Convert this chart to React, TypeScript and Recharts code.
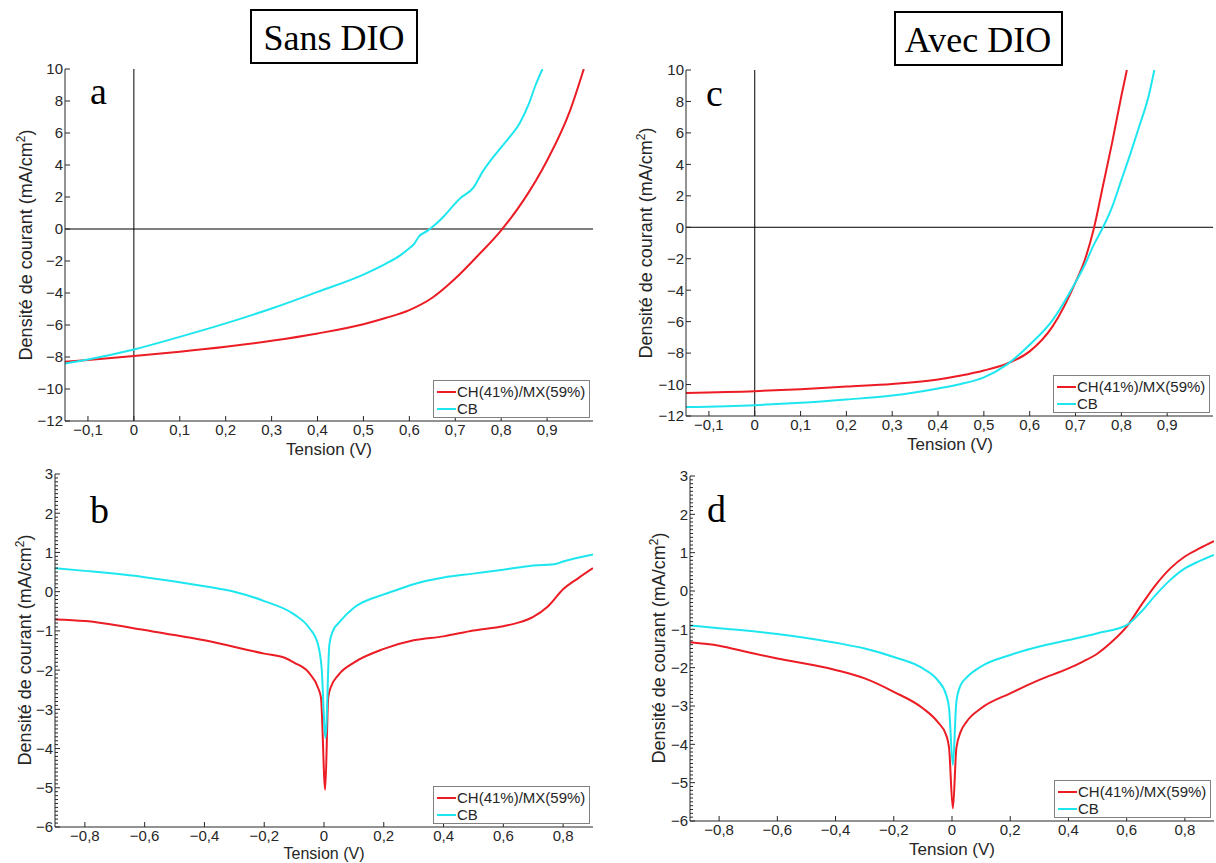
import React from 'react';
import { LineChart, Line, XAxis, YAxis, ReferenceLine, Legend } from 'recharts';

const RED = '#ec1c24';
const CYAN = '#1ee6ef';
const INK = '#262626';
const SANS = '"Liberation Sans", Arial, sans-serif';
const SERIF = '"Liberation Serif", "Times New Roman", serif';

const nameCH = 'CH(41%)/MX(59%)';
const nameCB = 'CB';
const legendOrder = [nameCH, nameCB];

// axis ticks
const jvXTicks = [-0.1, 0, 0.1, 0.2, 0.3, 0.4, 0.5, 0.6, 0.7, 0.8, 0.9];
const jvYTicks = [-12, -10, -8, -6, -4, -2, 0, 2, 4, 6, 8, 10];
const darkXTicks = [-0.8, -0.6, -0.4, -0.2, 0, 0.2, 0.4, 0.6, 0.8];
const darkYTicks = [-6, -5, -4, -3, -2, -1, 0, 1, 2, 3];
// minor ticks (every 0.1) on the dark-current plots
const darkYMinor: number[] = [];
for (let i = -60; i <= 30; i++) darkYMinor.push(i / 10);

// (a) sans DIO, illuminated
const vA_ch = [-0.15, -0.1, 0, 0.1, 0.2, 0.3, 0.4, 0.5, 0.55, 0.6, 0.65, 0.7, 0.75, 0.8, 0.85, 0.9, 0.95, 0.98];
const jA_ch = [-8.3, -8.18, -7.94, -7.67, -7.36, -6.99, -6.53, -5.95, -5.55, -5.07, -4.3, -3.1, -1.64, -0.08, 1.85, 4.28, 7.4, 10];
const vA_cb = [-0.15, -0.1, 0, 0.1, 0.2, 0.3, 0.4, 0.5, 0.55, 0.58, 0.6, 0.61, 0.62, 0.64, 0.65, 0.67, 0.7, 0.71, 0.74, 0.76, 0.78, 0.8, 0.82, 0.84, 0.86, 0.875, 0.89];
const jA_cb = [-8.4, -8.15, -7.53, -6.74, -5.9, -4.97, -3.93, -2.85, -2.15, -1.65, -1.2, -0.95, -0.5, -0.1, 0.12, 0.64, 1.6, 1.9, 2.6, 3.6, 4.4, 5.1, 5.8, 6.6, 7.8, 9.0, 10];

// (c) avec DIO, illuminated
const vC_ch = [-0.15, 0, 0.1, 0.2, 0.3, 0.4, 0.45, 0.5, 0.55, 0.6, 0.65, 0.7, 0.72, 0.74, 0.76, 0.78, 0.8, 0.812];
const jC_ch = [-10.53, -10.42, -10.3, -10.13, -9.96, -9.68, -9.43, -9.11, -8.67, -7.89, -6.3, -3.5, -2.1, -0.08, 2.66, 5.4, 8.35, 10];
const vC_cb = [-0.15, 0, 0.1, 0.2, 0.3, 0.4, 0.45, 0.5, 0.55, 0.6, 0.65, 0.7, 0.72, 0.74, 0.76, 0.78, 0.8, 0.82, 0.84, 0.86, 0.872];
const jC_cb = [-11.43, -11.31, -11.16, -10.95, -10.7, -10.25, -9.96, -9.54, -8.73, -7.47, -5.9, -3.5, -2.4, -1.1, 0, 1.3, 3.0, 4.7, 6.5, 8.4, 10];

// (b) sans DIO, dark
const vB_ch = [-0.9, -0.8, -0.6, -0.4, -0.2, -0.13, -0.1, -0.05, -0.02, -0.01, 0.004, 0.014, 0.022, 0.05, 0.1, 0.2, 0.3, 0.4, 0.5, 0.6, 0.65, 0.7, 0.75, 0.8, 0.85, 0.9];
const jB_ch = [-0.71, -0.75, -0.98, -1.24, -1.58, -1.69, -1.81, -2.07, -2.45, -2.71, -5.05, -2.71, -2.45, -2.11, -1.81, -1.46, -1.24, -1.14, -0.99, -0.88, -0.79, -0.64, -0.37, 0.06, 0.34, 0.6];
const vB_cb = [-0.9, -0.8, -0.6, -0.4, -0.3, -0.2, -0.1, -0.05, -0.02, -0.008, 0.005, 0.018, 0.03, 0.05, 0.1, 0.2, 0.25, 0.3, 0.4, 0.5, 0.6, 0.7, 0.77, 0.8, 0.9];
const jB_cb = [0.6, 0.53, 0.37, 0.14, 0.0, -0.24, -0.58, -0.92, -1.35, -1.94, -3.73, -1.35, -1.0, -0.79, -0.41, -0.07, 0.06, 0.19, 0.36, 0.46, 0.56, 0.67, 0.7, 0.77, 0.95];

// (d) avec DIO, dark
const vD_ch = [-0.9, -0.8, -0.7, -0.6, -0.4, -0.3, -0.2, -0.1, -0.05, -0.02, -0.01, 0.003, 0.015, 0.03, 0.05, 0.1, 0.2, 0.3, 0.4, 0.45, 0.5, 0.55, 0.6, 0.65, 0.7, 0.75, 0.8, 0.85, 0.9];
const jD_ch = [-1.34, -1.43, -1.6, -1.76, -2.06, -2.28, -2.63, -3.06, -3.41, -3.76, -4.1, -5.67, -4.1, -3.67, -3.41, -3.06, -2.67, -2.32, -2.02, -1.84, -1.63, -1.32, -0.93, -0.37, 0.16, 0.59, 0.9, 1.11, 1.3];
const vD_cb = [-0.9, -0.8, -0.6, -0.4, -0.3, -0.2, -0.1, -0.05, -0.02, -0.01, 0.003, 0.015, 0.03, 0.05, 0.1, 0.2, 0.3, 0.4, 0.5, 0.6, 0.65, 0.7, 0.75, 0.8, 0.85, 0.9];
const jD_cb = [-0.9, -0.97, -1.12, -1.35, -1.5, -1.72, -2.02, -2.32, -2.71, -3.06, -4.54, -2.89, -2.45, -2.26, -1.97, -1.67, -1.45, -1.28, -1.1, -0.89, -0.54, -0.1, 0.29, 0.59, 0.78, 0.94];

type Pt = { v: number; j: number };
const zip = (vs: number[], js: number[]): Pt[] => vs.map((v, i) => ({ v, j: js[i] }));

const fmtX = (v: number) => (v === 0 ? '0' : (v < 0 ? '\u2212' : '') + Math.abs(v).toFixed(1).replace('.', ','));
const fmtY = (v: number) => (v < 0 ? '\u2212' : '') + Math.abs(v);

const makeYTick = (major: number[], side: 'l' | 'r') => (props: any) => {
  const { x, y, payload } = props;
  const isMajor = major.includes(payload.value);
  const len = isMajor ? 5 : 3;
  const dir = side === 'l' ? 1 : -1;
  return (
    <g>
      <line x1={x} x2={x + dir * len} y1={y} y2={y} stroke={INK} />
      {side === 'l' && isMajor && (
        <text x={x - 2} y={y} dy="0.36em" textAnchor="end" fontSize={15} fontFamily={SANS} fill={INK}>
          {fmtY(payload.value)}
        </text>
      )}
    </g>
  );
};

const topTick = (props: any) => {
  const { x, y } = props;
  return <line x1={x} x2={x} y1={y} y2={y + 5} stroke={INK} />;
};

const LegendBox = (props: any) => {
  const items = ((props.payload || []) as any[])
    .slice()
    .sort((a, b) => legendOrder.indexOf(a.value) - legendOrder.indexOf(b.value));
  return (
    <div
      style={{
        width: 157,
        height: 38,
        boxSizing: 'border-box',
        border: '1px solid #808080',
        background: '#fff',
        padding: '2px 0 0 3px',
        fontFamily: SANS,
        fontSize: 15,
        color: INK,
      }}
    >
      {items.map((p) => (
        <div key={p.value} style={{ display: 'flex', alignItems: 'center', height: 17, lineHeight: '17px', whiteSpace: 'nowrap' }}>
          <span style={{ display: 'inline-block', width: 19, height: 2, background: p.color, marginRight: 1 }} />
          {p.value}
        </div>
      ))}
    </div>
  );
};

interface PanelProps {
  left: number;
  top: number;
  width: number;
  height: number;
  margin: { top: number; right: number; bottom: number; left: number };
  yAxisWidth: number;
  xDomain: [number, number];
  yDomain: [number, number];
  xTicks: number[];
  yTicks: number[];
  yAll: number[];
  ch: Pt[];
  cb: Pt[];
  cross?: boolean;
}

const Panel = ({ left, top, width, height, margin, yAxisWidth, xDomain, yDomain, xTicks, yTicks, yAll, ch, cb, cross }: PanelProps) => {
  const plotRight = width - margin.right;
  const plotBottom = height - margin.bottom - 30;
  return (
    <div style={{ position: 'absolute', left, top, width, height }}>
      <LineChart width={width} height={height} margin={margin}>
        <XAxis
          xAxisId="b"
          type="number"
          dataKey="v"
          domain={xDomain}
          ticks={xTicks}
          interval={0}
          allowDataOverflow
          tickFormatter={fmtX}
          tickSize={-5}
          tickMargin={8}
          height={30}
          stroke={INK}
          tick={{ fill: INK, fontSize: 15, fontFamily: SANS }}
        />
        <XAxis
          xAxisId="t"
          orientation="top"
          type="number"
          dataKey="v"
          domain={xDomain}
          ticks={xTicks}
          interval={0}
          allowDataOverflow
          height={0}
          tickSize={0}
          tickMargin={0}
          tickLine={false}
          tick={topTick}
          stroke={INK}
        />
        <YAxis
          yAxisId="l"
          type="number"
          domain={yDomain}
          ticks={yAll}
          interval={0}
          allowDataOverflow
          width={yAxisWidth}
          tickSize={0}
          tickMargin={0}
          tickLine={false}
          tick={makeYTick(yTicks, 'l')}
          stroke={INK}
        />
        <YAxis
          yAxisId="r"
          orientation="right"
          type="number"
          domain={yDomain}
          ticks={yAll}
          interval={0}
          allowDataOverflow
          width={0}
          tickSize={0}
          tickMargin={0}
          tickLine={false}
          tick={makeYTick(yTicks, 'r')}
          stroke={INK}
        />
        {cross && <ReferenceLine xAxisId="b" yAxisId="l" y={0} stroke="#000" strokeWidth={1} />}
        {cross && <ReferenceLine xAxisId="b" yAxisId="l" x={0} stroke="#000" strokeWidth={1} />}
        <Line xAxisId="b" yAxisId="l" data={ch} dataKey="j" name={nameCH} type="monotone" stroke={RED} strokeWidth={2} dot={false} isAnimationActive={false} />
        <Line xAxisId="b" yAxisId="l" data={cb} dataKey="j" name={nameCB} type="monotone" stroke={CYAN} strokeWidth={2} dot={false} isAnimationActive={false} />
        <Legend
          layout="vertical"
          align="center"
          verticalAlign="middle"
          content={LegendBox}
          wrapperStyle={{ left: plotRight - 3 - 157, top: plotBottom - 3 - 38, width: 'auto', height: 'auto' }}
        />
      </LineChart>
    </div>
  );
};

const yTitle = (x: number, cy: number) => (
  <text x={x} y={cy} transform={`rotate(-90 ${x} ${cy})`} textAnchor="middle" fontFamily={SANS} fontSize={18} fill={INK}>
    Densité de courant (mA/cm
    <tspan dy={-7} fontSize={12}>2</tspan>
    <tspan dy={7}>)</tspan>
  </text>
);

const xTitle = (cx: number, y: number, size = 17) => (
  <text x={cx} y={y} textAnchor="middle" fontFamily={SANS} fontSize={size} fill={INK}>
    Tension (V)
  </text>
);

const letter = (x: number, y: number, s: string) => (
  <text x={x} y={y} fontFamily={SERIF} fontSize={38} fill="#000">
    {s}
  </text>
);

export default function App() {
  return (
    <div style={{ position: 'absolute', left: 0, top: 0, width: 1216, height: 863, background: '#fff' }}>
      <Panel
        left={0} top={0} width={610} height={460}
        margin={{ top: 69, right: 17, bottom: 9, left: 25 }} yAxisWidth={40}
        xDomain={[-0.15, 1.0]} yDomain={[-12, 10]} xTicks={jvXTicks} yTicks={jvYTicks} yAll={jvYTicks}
        ch={zip(vA_ch, jA_ch)} cb={zip(vA_cb, jA_cb)} cross
      />
      <Panel
        left={606} top={0} width={610} height={460}
        margin={{ top: 70, right: 3, bottom: 14, left: 39 }} yAxisWidth={41}
        xDomain={[-0.15, 1.0]} yDomain={[-12, 10]} xTicks={jvXTicks} yTicks={jvYTicks} yAll={jvYTicks}
        ch={zip(vC_ch, jC_ch)} cb={zip(vC_cb, jC_cb)} cross
      />
      <Panel
        left={0} top={460} width={610} height={403}
        margin={{ top: 14, right: 17, bottom: 6, left: 24 }} yAxisWidth={31}
        xDomain={[-0.9, 0.9]} yDomain={[-6, 3]} xTicks={darkXTicks} yTicks={darkYTicks} yAll={darkYMinor}
        ch={zip(vB_ch, jB_ch)} cb={zip(vB_cb, jB_cb)}
      />
      <Panel
        left={606} top={460} width={610} height={403}
        margin={{ top: 16, right: 2, bottom: 12, left: 50 }} yAxisWidth={34}
        xDomain={[-0.9, 0.9]} yDomain={[-6, 3]} xTicks={darkXTicks} yTicks={darkYTicks} yAll={darkYMinor}
        ch={zip(vD_ch, jD_ch)} cb={zip(vD_cb, jD_cb)}
      />
      <svg width={1216} height={863} style={{ position: 'absolute', left: 0, top: 0, pointerEvents: 'none' }}>
        <rect x={251} y={10} width={166} height={53} fill="none" stroke="#000" strokeWidth={2} />
        <text x={334} y={50} textAnchor="middle" fontFamily={SERIF} fontSize={36} fill="#000">Sans DIO</text>
        <rect x={895} y={12} width={167} height={53} fill="none" stroke="#000" strokeWidth={2} />
        <text x={978} y={52} textAnchor="middle" fontFamily={SERIF} fontSize={36} fill="#000">Avec DIO</text>
        {letter(90, 104, 'a')}
        {letter(706, 106, 'c')}
        {letter(90, 523, 'b')}
        {letter(707, 522, 'd')}
        {yTitle(32, 245)}
        {yTitle(652, 243)}
        {yTitle(31, 650)}
        {yTitle(665, 648)}
        {xTitle(329, 455)}
        {xTitle(950, 450)}
        {xTitle(324, 858.5, 16)}
        {xTitle(952, 855)}
      </svg>
    </div>
  );
}
